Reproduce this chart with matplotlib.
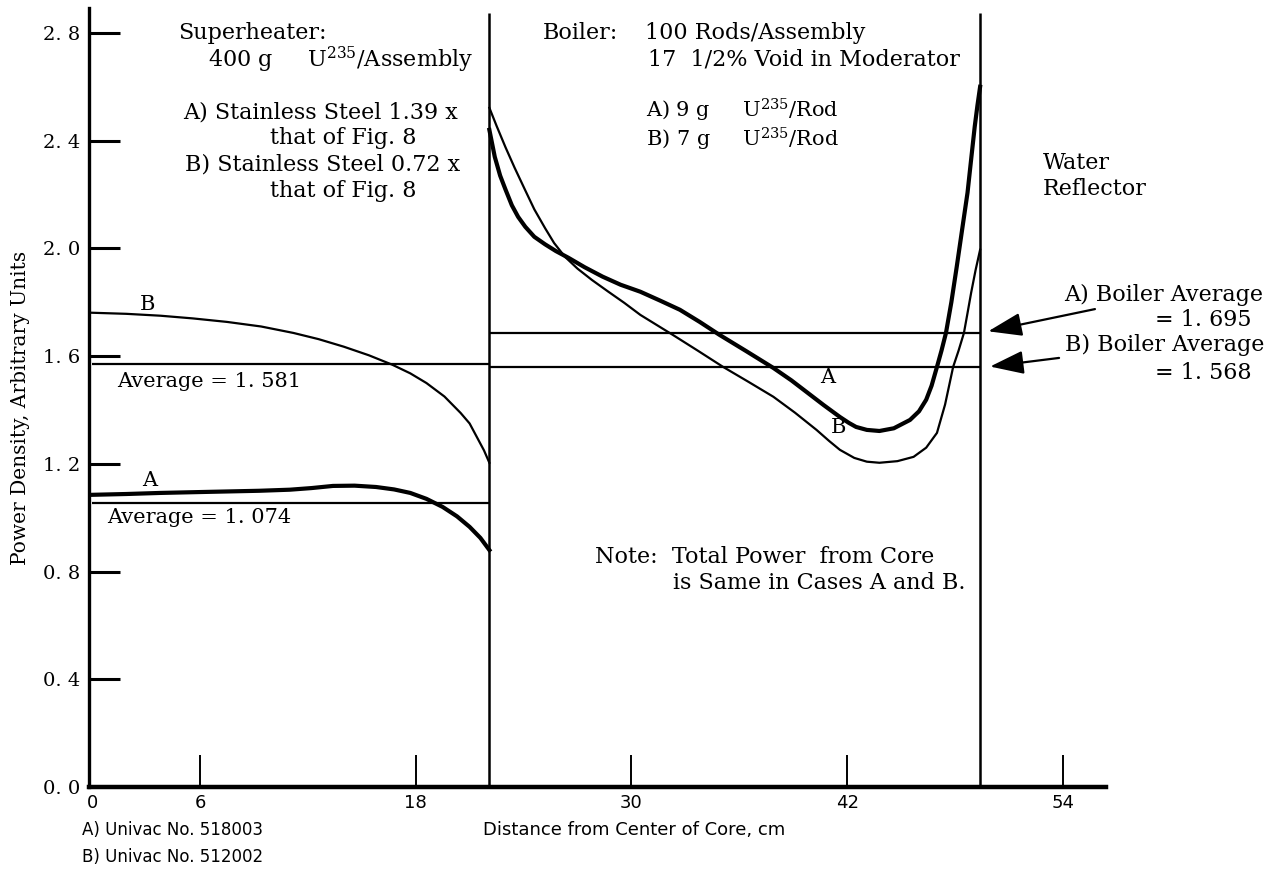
import matplotlib
matplotlib.use("Agg")
import matplotlib.pyplot as plt

plt.rcParams['font.family'] = ['DejaVu Serif']
plt.rcParams['mathtext.fontset'] = 'dejavuserif'

# superheater region (0 .. 22.1 cm)
sh_x_a = [0.0, 1.9, 3.8, 6.5, 9.3, 11.0, 12.2, 13.4, 14.6, 15.8, 16.8, 17.7,
          18.6, 19.5, 20.3, 21.0, 21.6, 22.1]
sh_y_a = [1.085, 1.088, 1.092, 1.096, 1.100, 1.104, 1.110, 1.118, 1.119, 1.114, 1.105, 1.092,
          1.070, 1.040, 1.005, 0.966, 0.925, 0.880]
sh_x_b = [0.0, 1.9, 3.8, 5.6, 7.5, 9.4, 11.2, 12.6, 14.0, 15.4, 16.7, 17.7,
          18.6, 19.6, 20.5, 21.0, 21.4, 21.8, 22.1]
sh_y_b = [1.761, 1.757, 1.750, 1.740, 1.727, 1.710, 1.686, 1.663, 1.635, 1.603, 1.568, 1.536,
          1.500, 1.450, 1.389, 1.350, 1.300, 1.250, 1.204]

# boiler region (22.1 .. 49.4 cm)
bo_x_a = [22.1, 22.25, 22.4, 22.7, 23.0, 23.35, 23.7, 24.1, 24.6, 25.2, 25.8, 26.5,
          27.4, 28.4, 29.4, 30.5, 31.6, 32.7, 33.8, 34.9, 36.4, 37.9, 38.9, 39.8,
          40.7, 41.6, 42.1, 42.5, 43.1, 43.8, 44.6, 45.5, 46.0, 46.4, 46.7, 47.0,
          47.25, 47.5, 47.8, 48.1, 48.4, 48.7, 48.9, 49.1, 49.25, 49.4]
bo_y_a = [2.44, 2.39, 2.34, 2.27, 2.218, 2.16, 2.117, 2.08, 2.043, 2.015, 1.99, 1.965,
          1.93, 1.895, 1.865, 1.839, 1.806, 1.772, 1.727, 1.679, 1.618, 1.556, 1.51, 1.464,
          1.418, 1.374, 1.352, 1.337, 1.326, 1.322, 1.332, 1.363, 1.395, 1.438, 1.49, 1.56,
          1.62, 1.686, 1.80, 1.932, 2.07, 2.207, 2.33, 2.452, 2.53, 2.60]
bo_x_b = [22.1, 22.5, 23.0, 23.5, 24.1, 24.6, 25.2, 25.7, 26.3, 27.0, 27.8, 28.7,
          29.6, 30.5, 31.4, 32.3, 33.7, 35.1, 36.5, 37.9, 39.1, 40.3, 41.0, 41.6,
          42.4, 43.1, 43.8, 44.8, 45.7, 46.4, 47.0, 47.45, 47.9, 48.2, 48.5, 48.7,
          48.9, 49.15, 49.4]
bo_y_b = [2.522, 2.455, 2.375, 2.30, 2.215, 2.145, 2.075, 2.02, 1.969, 1.925, 1.883, 1.84,
          1.798, 1.753, 1.716, 1.679, 1.62, 1.56, 1.505, 1.449, 1.39, 1.326, 1.285, 1.252,
          1.222, 1.208, 1.204, 1.21, 1.226, 1.26, 1.315, 1.42, 1.56, 1.62, 1.686, 1.76,
          1.835, 1.92, 1.995]

# average levels as drawn
sh_avg_a = 1.054
sh_avg_b = 1.571
bo_avg_a = 1.685
bo_avg_b = 1.561
region_edges = [22.1, 49.4]

xticks = [0, 6, 18, 30, 42, 54]
yticks = [0.0, 0.4, 0.8, 1.2, 1.6, 2.0, 2.4, 2.8]
ytick_labels = ["0. 0", "0. 4", "0. 8", "1. 2", "1. 6", "2. 0", "2. 4", "2. 8"]

fig = plt.figure(figsize=(12.83, 8.74), dpi=100)
ax = fig.add_axes([0.0694, 0.0995, 0.7926, 0.8915])

fs = 16
k = 'black'

ax.plot(sh_x_a, sh_y_a, color=k, lw=3.0, solid_joinstyle='round')
ax.plot(sh_x_b, sh_y_b, color=k, lw=1.6, solid_joinstyle='round')
ax.plot(bo_x_a, bo_y_a, color=k, lw=3.0, solid_joinstyle='round')
ax.plot(bo_x_b, bo_y_b, color=k, lw=1.6, solid_joinstyle='round')

ax.hlines([sh_avg_a, sh_avg_b], 0, region_edges[0], color=k, lw=1.6)
ax.hlines([bo_avg_a, bo_avg_b], region_edges[0], region_edges[1], color=k, lw=1.6)
ax.vlines(region_edges, 0, 2.875, color=k, lw=1.8)

ax.set_xlim(-0.17, 56.4)
ax.set_ylim(0, 2.893)
for s in ['top', 'right']:
    ax.spines[s].set_visible(False)
ax.spines['left'].set_linewidth(2.4)
ax.spines['bottom'].set_linewidth(3.2)

ax.set_xticks(xticks)
ax.set_xticklabels([str(v) for v in xticks], family=['DejaVu Sans'], fontsize=13)
ax.set_yticks(yticks)
ax.set_yticklabels(ytick_labels, fontsize=14)
ax.tick_params(axis='y', direction='in', length=22, width=2.2, pad=6)
ax.tick_params(axis='x', direction='in', length=23, width=1.4, pad=5)
ax.xaxis.get_major_ticks()[0].tick1line.set_visible(False)
ax.yaxis.get_major_ticks()[0].tick1line.set_visible(False)

# curve labels
ax.text(3.1, 1.79, "B", fontsize=15, ha='center', va='center')
ax.text(3.2, 1.14, "A", fontsize=15, ha='center', va='center')
ax.text(40.9, 1.519, "A", fontsize=15, ha='center', va='center')
ax.text(41.5, 1.334, "B", fontsize=15, ha='center', va='center')
ax.text(1.4, 1.504, "Average = 1. 581", fontsize=15, va='center')
ax.text(0.83, 0.999, "Average = 1. 074", fontsize=15, va='center')

# superheater notes
ax.text(4.8, 2.80, "Superheater:", fontsize=fs, va='center')
ax.text(6.45, 2.70, "400 g     U$^{235}$/Assembly", fontsize=fs, va='center')
ax.text(5.06, 2.504, "A) Stainless Steel 1.39 x", fontsize=fs, va='center')
ax.text(9.9, 2.411, "that of Fig. 8", fontsize=fs, va='center')
ax.text(5.17, 2.311, "B) Stainless Steel 0.72 x", fontsize=fs, va='center')
ax.text(9.9, 2.214, "that of Fig. 8", fontsize=fs, va='center')

# boiler notes
ax.text(25.08, 2.80, "Boiler:", fontsize=fs, va='center')
ax.text(30.76, 2.80, "100 Rods/Assembly", fontsize=fs, va='center')
ax.text(30.9, 2.70, "17  1/2% Void in Moderator", fontsize=fs, va='center')
ax.text(30.8, 2.512, "A) 9 g     U$^{235}$/Rod", fontsize=15, va='center')
ax.text(30.8, 2.404, "B) 7 g     U$^{235}$/Rod", fontsize=15, va='center')
ax.text(52.9, 2.318, "Water", fontsize=fs, va='center')
ax.text(52.9, 2.221, "Reflector", fontsize=fs, va='center')

ax.text(28.0, 0.854, "Note:  Total Power  from Core", fontsize=fs, va='center')
ax.text(32.3, 0.758, "is Same in Cases A and B.", fontsize=fs, va='center')

# boiler average callouts
arrow = dict(arrowstyle='-|>,head_length=1.3,head_width=0.45', color=k, lw=1.6)
ax.annotate("A) Boiler Average", xy=(49.7, 1.69), xytext=(54.1, 1.828),
            fontsize=fs, va='center', arrowprops=arrow, annotation_clip=False)
ax.text(64.5, 1.735, "= 1. 695", fontsize=fs, va='center', ha='right', clip_on=False)
ax.annotate("B) Boiler Average", xy=(49.8, 1.56), xytext=(54.1, 1.642),
            fontsize=fs, va='center', arrowprops=arrow, annotation_clip=False)
ax.text(64.5, 1.538, "= 1. 568", fontsize=fs, va='center', ha='right', clip_on=False)

fig.text(0.494, 0.0503, "Distance from Center of Core, cm", fontsize=13, ha='center', va='center',
         family=['DejaVu Sans'])
fig.text(0.064, 0.0503, "A) Univac No. 518003", fontsize=12, va='center', family=['DejaVu Sans'])
fig.text(0.064, 0.0195, "B) Univac No. 512002", fontsize=12, va='center', family=['DejaVu Sans'])
fig.text(0.0156, 0.533, "Power Density, Arbitrary Units", fontsize=14.5, rotation=90,
         ha='center', va='center')

fig.savefig("out.png", dpi=100)
